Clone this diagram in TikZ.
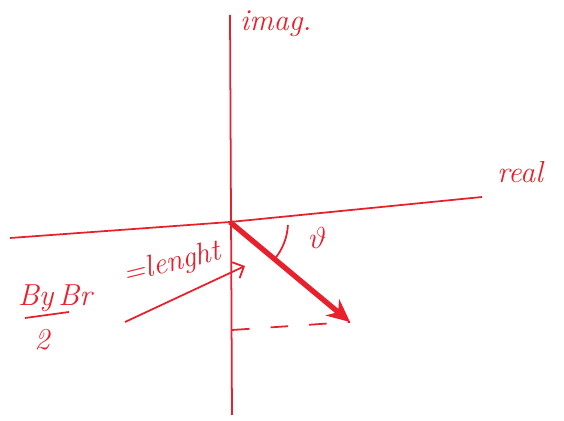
\documentclass[tikz,border=0pt]{standalone}
\usepackage{amsmath}
\usepackage{tikz}
\usetikzlibrary{arrows.meta}
\definecolor{penred}{RGB}{232,32,44}

\begin{document}
\begin{tikzpicture}[x=0.02cm, y=-0.02cm, every node/.style={text=penred}]
                        \useasboundingbox (0,0) rectangle (564,421);
                        \coordinate (o) at (230,222);
                        \coordinate (tip) at (350,322);
                        \coordinate (foot) at (232,330);

                        \draw [penred, line width=1pt] (230,15) -- (232,415);
                        \draw [penred, line width=1pt] (10,238) -- (o) -- (482,197);
                        \draw [penred, line width=3pt, -{Stealth[length=13pt,width=12pt]}] (o) -- (tip);
                        \draw [penred, line width=1pt] (o) ++(3:58) arc (3:40:58);
                        \draw [penred, line width=1pt, dash pattern=on 10pt off 12pt] (foot) -- (tip);
                        \draw [penred, line width=1pt, -{Straight Barb[length=5pt]}] (125,322) -- (245,266);

                        \node[right] (imag) at (234,24) {\LARGE\itshape imag.};
                        \node (real) at (520,172) {\LARGE\itshape real};
                        \node (ang) at (318,238) {\LARGE $\vartheta$};
                        \node (byb) at (55,298) {\LARGE\itshape By\,Br};
                        \draw [penred, line width=1pt] (25,318) -- (69,312);
                        \node (half) at (42,340) {\LARGE\itshape 2};
                        \node[rotate=14, inner sep=1pt] (len) at (172,264) {\LARGE\itshape =lenght};
                    \end{tikzpicture}
\end{document}
